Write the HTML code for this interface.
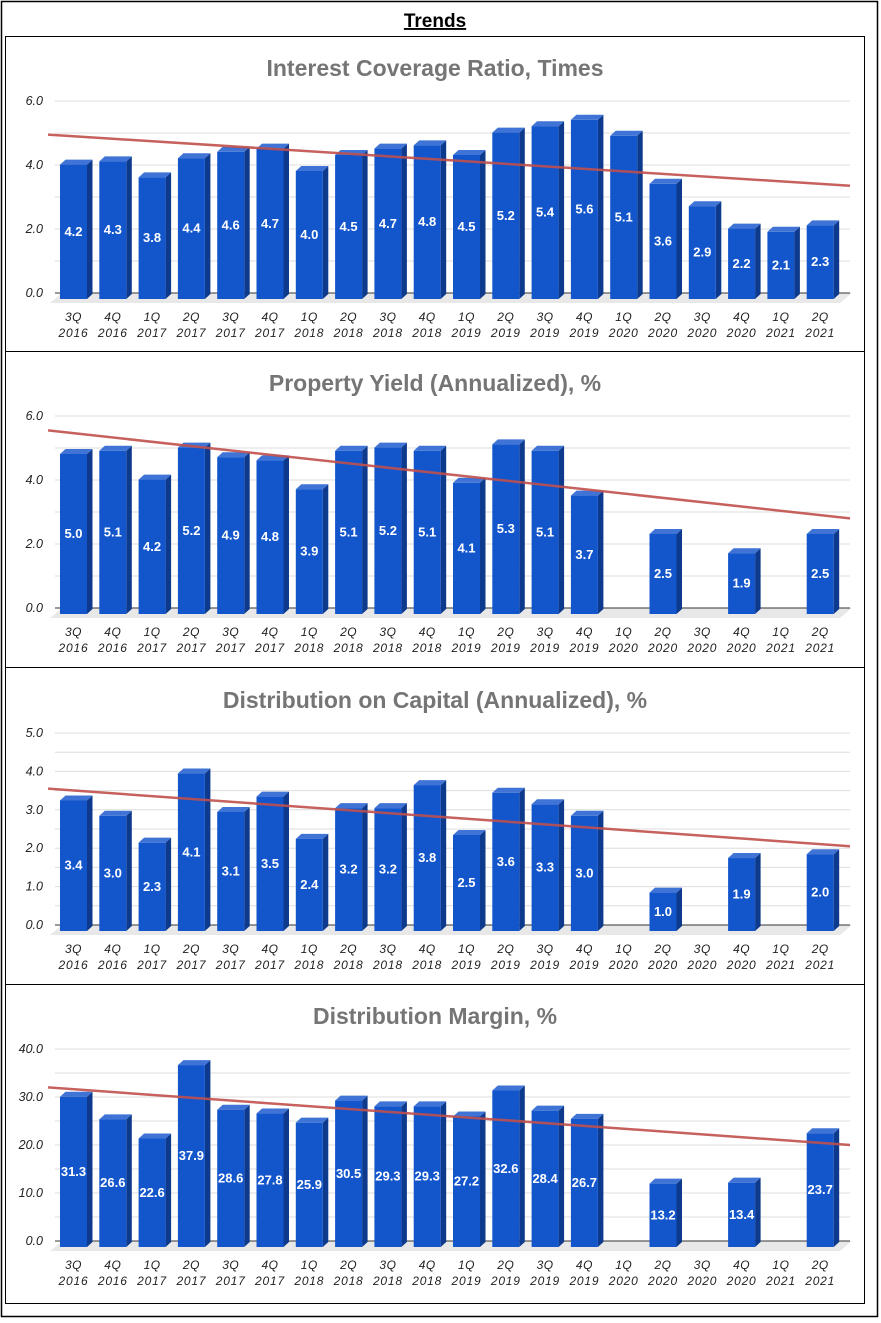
<!DOCTYPE html>
<html><head><meta charset="utf-8"><style>
body{margin:0;background:#fff;}
svg{display:block;font-family:"Liberation Sans",sans-serif;}
</style></head><body>
<svg id="s" width="881" height="1323">
<rect x="1.5" y="1.5" width="876" height="1315" fill="none" stroke="#000" stroke-width="1.5"/>
<text x="435" y="27" text-anchor="middle" font-size="19" font-weight="bold" text-decoration="underline">Trends</text>
<rect x="5.5" y="36.5" width="859" height="1267" fill="none" stroke="#000" stroke-width="1"/>
<line x1="5" y1="351.5" x2="865" y2="351.5" stroke="#000"/>
<line x1="5" y1="667.5" x2="865" y2="667.5" stroke="#000"/>
<line x1="5" y1="984.5" x2="865" y2="984.5" stroke="#000"/>
</svg>
<script>
const categories=["3Q|2016","4Q|2016","1Q|2017","2Q|2017","3Q|2017","4Q|2017","1Q|2018","2Q|2018","3Q|2018","4Q|2018","1Q|2019","2Q|2019","3Q|2019","4Q|2019","1Q|2020","2Q|2020","3Q|2020","4Q|2020","1Q|2021","2Q|2021"];
const titles=["Interest Coverage Ratio, Times","Property Yield (Annualized), %","Distribution on Capital (Annualized), %","Distribution Margin, %"];
const icrValues=[4.2,4.3,3.8,4.4,4.6,4.7,4.0,4.5,4.7,4.8,4.5,5.2,5.4,5.6,5.1,3.6,2.9,2.2,2.1,2.3];
const yieldValues=[5.0,5.1,4.2,5.2,4.9,4.8,3.9,5.1,5.2,5.1,4.1,5.3,5.1,3.7,null,2.5,null,1.9,null,2.5];
const docValues=[3.4,3.0,2.3,4.1,3.1,3.5,2.4,3.2,3.2,3.8,2.5,3.6,3.3,3.0,null,1.0,null,1.9,null,2.0];
const marginValues=[31.3,26.6,22.6,37.9,28.6,27.8,25.9,30.5,29.3,29.3,27.2,32.6,28.4,26.7,null,13.2,null,13.4,null,23.7];
const yMax=[6,6,5,40];
const yMajor=[2,2,1,10];
const yMinor=[1,1,0.5,5];
const trendStart=[4.95,5.55,3.55,32.0];
const trendEnd=[3.35,2.8,2.05,20.0];
const series=[icrValues,yieldValues,docValues,marginValues];
const NS="http://www.w3.org/2000/svg";
const svg=document.getElementById('s');
function el(t,a,p){const e=document.createElementNS(NS,t);for(const k in a)e.setAttribute(k,a[k]);(p||svg).appendChild(e);return e;}
const offs=[0,315,632,948];
series.forEach((vals,ci)=>{
  const o=offs[ci];
  const g=el('g',{});
  
  
  const top=101+o, zero=293+o, base=299+o;
  const k=(zero-top)/yMax[ci];
  const y=v=>base-v*k;
  const gy=v=>zero-v*k;
  const x=i=>73.5+i*39.3;
  const t=el('text',{x:435,y:76+o,'text-anchor':'middle','font-size':23,'font-weight':'bold',fill:'#757575'},g);
  t.textContent=titles[ci];
  
  
  for(let v=0;v<=yMax[ci]+1e-9;v+=yMinor[ci]){
    el('line',{x1:55,x2:850,y1:gy(v),y2:gy(v),stroke:v===0?'#333':'#ddd','stroke-width':1},g);
    if(Math.abs(v/yMajor[ci]-Math.round(v/yMajor[ci]))<1e-6){
      const l=el('text',{x:43,y:gy(v)+4,'text-anchor':'end','font-size':12.5,'font-style':'italic',fill:'#222'},g);
      l.textContent=v.toFixed(1);
      
      
    }
  }
  el('polygon',{points:`50,${zero+10} 840,${zero+10} 852,${zero} 62,${zero}`,fill:'#e8e8e8'},g);
  el('line',{x1:55,x2:850,y1:zero,y2:zero,stroke:'#333'},g);
  vals.forEach((v,i)=>{
    const cx=x(i);
    const c=categories[i].split('|');
    const xl=el('text',{x:cx,y:321+o,'text-anchor':'middle','font-size':12,'font-style':'italic',fill:'#222','letter-spacing':'0.5'},g);
    xl.textContent=c[0];
    
    
    const xl2=el('text',{x:cx,y:337+o,'text-anchor':'middle','font-size':12,'font-style':'italic',fill:'#222','letter-spacing':'0.8'},g);
    xl2.textContent=c[1];
    if(v===null)return;
    const x0=cx-13.5,x1=cx+13.5,yt=y(v);
    const side=el('polygon',{points:`${x1},${base} ${x1+5.5},${base-5} ${x1+5.5},${yt-5} ${x1},${yt}`,fill:'#0d3a8c'},g);
    
    
    const tp=el('polygon',{points:`${x0},${yt} ${x0+5.5},${yt-5} ${x1+5.5},${yt-5} ${x1},${yt}`,fill:'#3f74d6'},g);
    
    
    const r=el('rect',{x:x0,y:yt,width:27,height:base-yt,fill:'#1356cc'},g);
    
    
    const lb=el('text',{x:cx,y:(yt+base)/2+4,'text-anchor':'middle','font-size':13,'font-weight':'bold',fill:'#fff'},g);
    lb.textContent=v.toFixed(1);
    
    
  });
  const tl=el('line',{x1:48,y1:gy(trendStart[ci]),x2:850,y2:gy(trendEnd[ci]),stroke:'#c0504d','stroke-width':2.5,'stroke-opacity':0.9},g);
  
  
});
</script>
</body></html>
